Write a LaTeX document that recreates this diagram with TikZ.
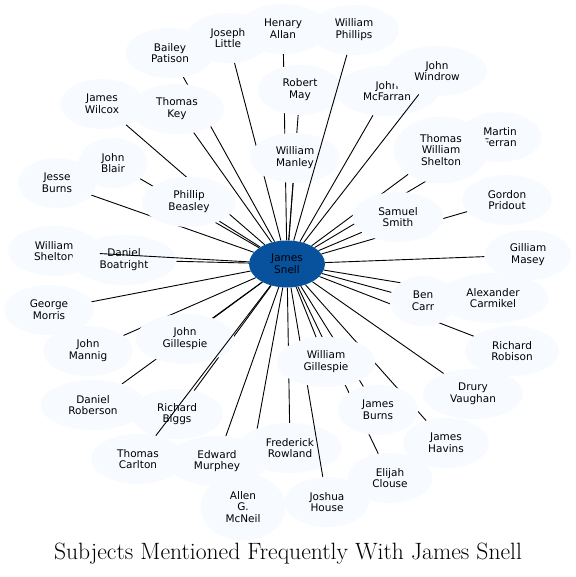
\documentclass[tikz,border=0pt]{standalone}
\usepackage{fontspec}
\newfontfamily\namefont{DejaVu Sans}
\usetikzlibrary{shapes.geometric}
\pgfdeclarelayer{edges}
\pgfdeclarelayer{top}
\pgfsetlayers{edges,main,top}
\definecolor{paleblue}{HTML}{F7FBFF}
\definecolor{hubblue}{HTML}{08519C}
\tikzset{
  person/.style={ellipse, fill=paleblue, align=center, inner xsep=12.5pt, inner ysep=0pt,
    minimum height=50pt, font={\namefont\fontsize{10.5}{11.8}\selectfont}},
  tall/.style={minimum height=67pt},
  hub/.style={person, fill=hubblue, minimum height=47pt, inner xsep=11pt},
  link/.style={line width=0.9pt, black},
}

\begin{document}
\begin{tikzpicture}[x=1pt, y=-1pt]
  \useasboundingbox (0,0) rectangle (575,577);

  % Outer ring of names
  \node[person] (hallan)     at (283,29)  {Henary\\Allan};
  \node[person] (jlittle)    at (228,38)  {Joseph\\Little};
  \node[person] (wphillips)  at (354,30)  {William\\Phillips};
  \node[person] (bpatison)   at (170,53)  {Bailey\\Patison};
  \node[person] (jmcfarran)  at (387,91)  {John\\McFarran};
  \node[person] (jwindrow)   at (437,71)  {John\\Windrow};
  \node[person] (rmay)       at (300,90)  {Robert\\May};
  \node[person] (jwilcox)    at (102,104) {James\\Wilcox};
  \node[person] (tkey)       at (177,109) {Thomas\\Key};
  \node[person] (mferran)    at (500,137) {Martin\\Ferran};
  \node[person, tall] (twshelton) at (441,150) {Thomas\\William\\Shelton};
  \node[person] (jblair)     at (113,163) {John\\Blair};
  \node[person] (wmanley)    at (295,158) {William\\Manley};
  \node[person] (jesseburns) at (57,183)  {Jesse\\Burns};
  \node[person] (pbeasley)   at (189,202) {Phillip\\Beasley};
  \node[person] (gpridout)   at (507,200) {Gordon\\Pridout};
  \node[person] (ssmith)     at (398,217) {Samuel\\Smith};
  \node[person] (wshelton)   at (54,251)  {William\\Shelton};
  \node[person] (dboatright) at (124,260) {Daniel\\Boatright};
  \node[person] (gmasey)     at (528,255) {Gilliam\\Masey};
  \node[person] (acarmikel)  at (493,298) {Alexander\\Carmikel};
  \node[person] (bcarr)      at (423,301) {Ben\\Carr};
  \node[person] (gmorris)    at (49,310)  {George\\Morris};
  \node[person] (jgillespie) at (185,339) {John\\Gillespie};
  \node[person] (jmannig)    at (88,351)  {John\\Mannig};
  \node[person] (rrobison)   at (512,351) {Richard\\Robison};
  \begin{pgfonlayer}{top}
    \node[person] (wgillespie) at (326,362) {William\\Gillespie};
  \end{pgfonlayer}
  \node[person] (dvaughan)   at (473,394) {Drury\\Vaughan};
  \node[person] (droberson)  at (93,405)  {Daniel\\Roberson};
  \node[person] (jamesburns) at (378,410) {James\\Burns};
  \node[person] (rbiggs)     at (177,414) {Richard\\Biggs};
  \node[person] (jhavins)    at (446,443) {James\\Havins};
  \node[person] (frowland)   at (290,448) {Frederick\\Rowland};
  \node[person] (tcarlton)   at (138,459) {Thomas\\Carlton};
  \node[person] (emurphey)   at (217,461) {Edward\\Murphey};
  \node[person] (eclouse)    at (390,478) {Elijah\\Clouse};
  \node[person] (jhouse)     at (327,502) {Joshua\\House};
  \node[person, tall] (amcneil) at (243,507) {Allen\\G.\\McNeil};

  % Centre
  \begin{pgfonlayer}{top}
    \node[hub] (snell) at (287,264) {James\\Snell};
  \end{pgfonlayer}

  % Spokes behind the names
  \begin{pgfonlayer}{edges}
    \foreach \n in {hallan,jlittle,bpatison,jmcfarran,rmay,jwilcox,tkey,mferran,
        twshelton,jblair,wmanley,jesseburns,pbeasley,gpridout,ssmith,dboatright,
        gmasey,acarmikel,bcarr,gmorris,jgillespie,jmannig,rrobison,wgillespie,
        dvaughan,droberson,jamesburns,rbiggs,jhavins,frowland,emurphey,eclouse,
        amcneil}
      \draw[link] (snell) -- (\n);
  \end{pgfonlayer}

  % Spokes over the names
  \foreach \n in {wshelton,tcarlton,wphillips,jwindrow,jhouse}
    \draw[link] (snell) -- (\n);

  % Title
  \node[font=\fontsize{23.6}{28}\selectfont] (title) at (288,554) {Subjects Mentioned Frequently With James Snell};
\end{tikzpicture}
\end{document}
